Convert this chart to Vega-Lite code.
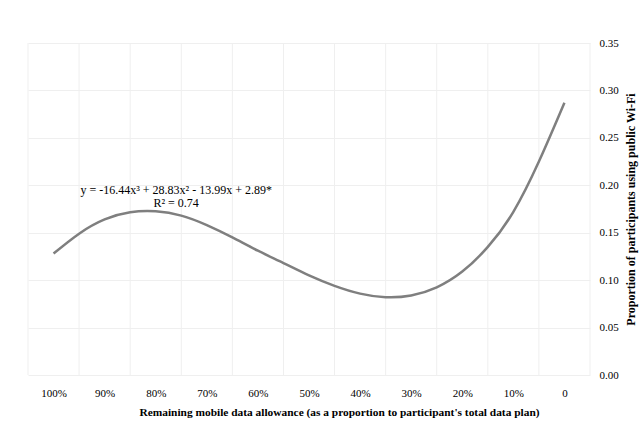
{
  "$schema": "https://vega.github.io/schema/vega-lite/v6.json",
  "width": 562,
  "height": 332,
  "autosize": {"type": "none"},
  "padding": {"left": 28, "top": 43, "right": 51, "bottom": 59},
  "background": "white",
  "config": {
    "view": {"stroke": null},
    "font": "Liberation Serif",
    "axis": {"labelFont": "Liberation Serif", "titleFont": "Liberation Serif", "labelColor": "#000000", "titleColor": "#000000"}
  },
  "layer": [
    {
      "data": {"values": [
        {"g": 1.05}, {"g": 0.95}, {"g": 0.85}, {"g": 0.75}, {"g": 0.65}, {"g": 0.55},
        {"g": 0.45}, {"g": 0.35}, {"g": 0.25}, {"g": 0.15}, {"g": 0.05}, {"g": -0.05}
      ]},
      "mark": {"type": "rule", "color": "#efefef", "strokeWidth": 1},
      "encoding": {
        "x": {
          "field": "g", "type": "quantitative",
          "scale": {"domain": [-0.05, 1.05], "reverse": true, "nice": false, "zero": false},
          "axis": {
            "values": [1, 0.9, 0.8, 0.7, 0.6, 0.5, 0.4, 0.3, 0.2, 0.1, 0],
            "labelExpr": "datum.value == 0 ? '0' : format(datum.value, '.0%')",
            "grid": false, "ticks": false, "domain": false,
            "labelFontSize": 11, "labelPadding": 12,
            "title": "Remaining mobile data allowance (as a proportion to participant's  total data plan)",
            "titleFontSize": 11.4, "titleFontWeight": "bold", "titlePadding": 8,
            "titleX": 311, "titleAlign": "center"
          }
        }
      }
    },
    {
      "data": {"values": [
        {"x": 1.0, "y": 0.128},
        {"x": 0.95, "y": 0.149},
        {"x": 0.9, "y": 0.164},
        {"x": 0.85, "y": 0.1715},
        {"x": 0.8, "y": 0.1725},
        {"x": 0.75, "y": 0.168},
        {"x": 0.7, "y": 0.158},
        {"x": 0.65, "y": 0.145},
        {"x": 0.6, "y": 0.131},
        {"x": 0.55, "y": 0.118},
        {"x": 0.5, "y": 0.105},
        {"x": 0.45, "y": 0.094},
        {"x": 0.4, "y": 0.0858},
        {"x": 0.35, "y": 0.082},
        {"x": 0.3, "y": 0.0838},
        {"x": 0.25, "y": 0.0924},
        {"x": 0.2, "y": 0.109},
        {"x": 0.15, "y": 0.135},
        {"x": 0.1, "y": 0.172},
        {"x": 0.05, "y": 0.225},
        {"x": 0.0, "y": 0.287}
      ]},
      "mark": {"type": "line", "color": "#7f7f7f", "strokeWidth": 2.5, "interpolate": "natural"},
      "encoding": {
        "x": {"field": "x", "type": "quantitative"},
        "y": {
          "field": "y", "type": "quantitative",
          "scale": {"domain": [0, 0.35], "nice": false, "zero": true},
          "axis": {
            "orient": "right",
            "values": [0, 0.05, 0.1, 0.15, 0.2, 0.25, 0.3, 0.35],
            "format": ".2f",
            "grid": true, "gridColor": "#efefef",
            "ticks": false, "domain": false,
            "labelFontSize": 11, "labelPadding": 9,
            "title": "Proportion of participants using public Wi-Fi",
            "titleFontSize": 12, "titleFontWeight": "bold", "titleAngle": 270, "titleBaseline": "top", "titlePadding": 7
          }
        }
      }
    },
    {
      "data": {"values": [
        {"x": 0.76, "y": 0.195, "t": "y = -16.44x³ + 28.83x² - 13.99x + 2.89*"},
        {"x": 0.76, "y": 0.1818, "t": "R² = 0.74"}
      ]},
      "mark": {"type": "text", "fontSize": 12, "font": "Liberation Serif", "color": "#000000", "align": "center", "baseline": "middle"},
      "encoding": {
        "x": {"field": "x", "type": "quantitative"},
        "y": {"field": "y", "type": "quantitative"},
        "text": {"field": "t"}
      }
    }
  ]
}
